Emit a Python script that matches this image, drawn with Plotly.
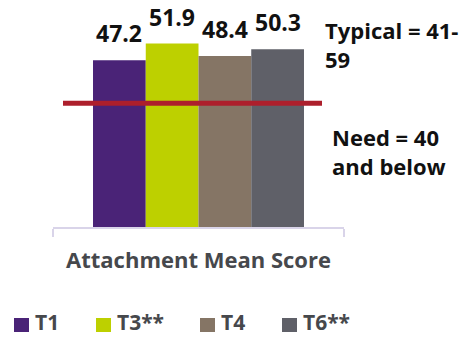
import plotly.graph_objects as go

# Data
category = ["Attachment Mean Score"]
series = ["T1", "T3**", "T4", "T6**"]
scores = [47.2, 51.9, 48.4, 50.3]
colors = ["#4a2377", "#bdd000", "#857565", "#5f6068"]
threshold = 35  # red reference line position on the score axis
typical_note = "Typical = 41-<br>59"
need_note = "Need = 40<br>and below"

# Layout geometry (pixels)
W, H = 476, 338
ML, MR, MT, MB = 53, 132, 15, 111
PW, PH = W - ML - MR, H - MT - MB
BARGAP = 0.275
FONT = "Open Sans"


def px_x(px):
    return (px - ML) / PW


def px_y(py):
    return (H - MB - py) / PH


fig = go.Figure()
for name, val, col in zip(series, scores, colors):
    fig.add_trace(go.Bar(x=category, y=[val], name=name, marker_color=col,
                         marker_line_width=0, showlegend=False))

bar_px = PW * (1 - BARGAP) / len(series)
annotations = []
for i, val in enumerate(scores):
    annotations.append(dict(
        x=category[0], y=val, xref="x", yref="y", text=f"<b>{val}</b>",
        showarrow=False, yanchor="bottom", xshift=(i - (len(series) - 1) / 2) * bar_px,
        yshift=9, font=dict(family=FONT, size=23, color="#111111")))

annotations.append(dict(x=px_x(323), y=px_y(13), xref="paper", yref="paper",
                        text=f"<b>{typical_note}</b>", showarrow=False, align="left",
                        xanchor="left", yanchor="top",
                        font=dict(family=FONT, size=22, color="#111111")))
annotations.append(dict(x=px_x(330), y=px_y(120), xref="paper", yref="paper",
                        text=f"<b>{need_note}</b>", showarrow=False, align="left",
                        xanchor="left", yanchor="top",
                        font=dict(family=FONT, size=22, color="#111111")))

# Custom legend row
shapes = [dict(type="line", xref="paper", yref="y", x0=px_x(63), x1=px_x(322),
               y0=threshold, y1=threshold, line=dict(color="#ad1f2c", width=5))]
legend_x = [14, 96, 200, 282]
for lx, name, col in zip(legend_x, series, colors):
    shapes.append(dict(type="rect", xref="paper", yref="paper",
                       x0=px_x(lx), x1=px_x(lx + 15), y0=px_y(318), y1=px_y(332),
                       fillcolor=col, line_width=0))
    annotations.append(dict(x=px_x(lx + 19), y=px_y(338), xref="paper", yref="paper",
                            text=f"<b>{name}</b>", showarrow=False, xanchor="left",
                            yanchor="bottom",
                            font=dict(family=FONT, size=21, color="#46484c")))

fig.update_layout(
    width=W, height=H, margin=dict(l=ML, r=MR, t=MT, b=MB),
    barmode="group", bargap=BARGAP, bargroupgap=0,
    plot_bgcolor="white", paper_bgcolor="white",
    annotations=annotations, shapes=shapes,
    xaxis=dict(showline=True, linecolor="#d9d4e9", linewidth=2,
               ticks="outside", tickson="boundaries", ticklen=8, tickwidth=2,
               tickcolor="#d9d4e9", ticklabelstandoff=13,
               tickfont=dict(family=FONT, size=22, color="#46484c"),
               tickprefix="<b>", ticksuffix="</b>"),
    yaxis=dict(range=[0, 60], visible=False, showgrid=False),
)

fig.write_html("out.html")
